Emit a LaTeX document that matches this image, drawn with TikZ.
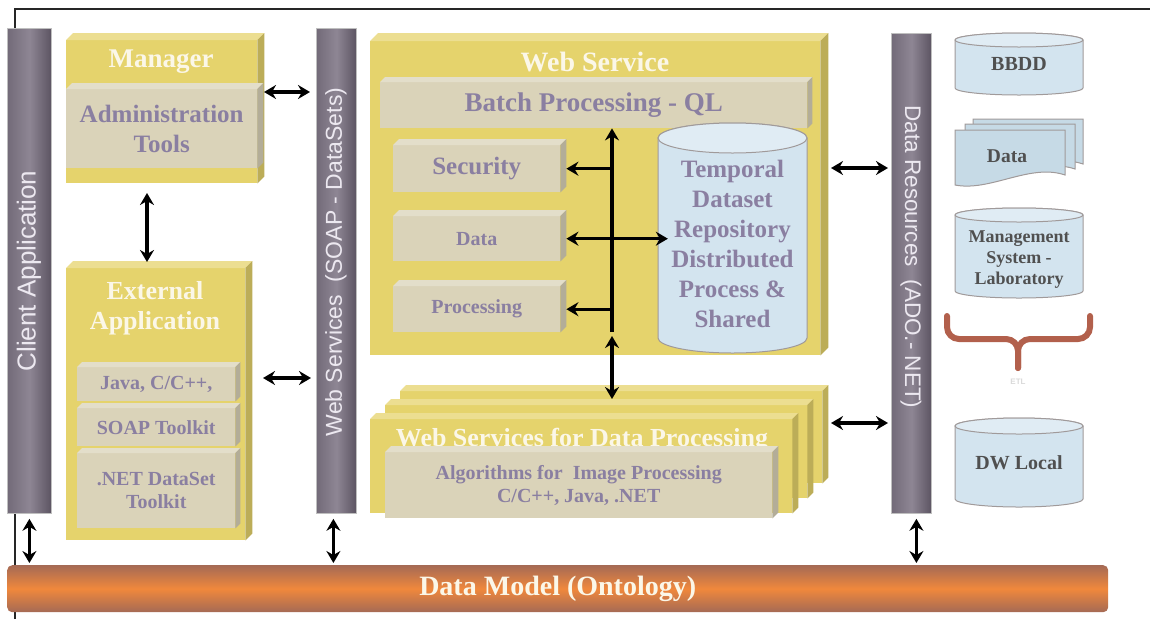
\documentclass[tikz,border=0pt]{standalone}
\usepackage{fontspec}
\setmainfont{Liberation Serif}
\setsansfont{Liberation Sans}
\usetikzlibrary{arrows.meta}

\definecolor{slabyellow}{HTML}{E5D36C}
\definecolor{tilegray}{HTML}{DAD3B9}
\definecolor{inkpurple}{HTML}{8A7FA1}
\definecolor{headwhite}{HTML}{FBF7E8}
\definecolor{bardark}{HTML}{5C5462}
\definecolor{barlight}{HTML}{8E8694}
\definecolor{barwhite}{HTML}{ECE8F0}
\definecolor{drumblue}{HTML}{D3E4EF}
\definecolor{drumline}{HTML}{A09A9A}
\definecolor{docblue}{HTML}{C6DAE6}
\definecolor{modelorange}{HTML}{F0883C}
\definecolor{modelbrown}{HTML}{A56A55}
\definecolor{bracered}{HTML}{B2604C}
\definecolor{darkink}{HTML}{505050}

% top and right faces of a block
\newcommand{\slab}[3]{%
  \fill[#3!75!white] (#1.north west) -- ++(#2,-#2) -- ([shift={(#2,-#2)}]#1.north east) -- (#1.north east) -- cycle;
  \fill[#3!82!black] (#1.north east) -- ++(#2,-#2) -- ([shift={(#2,-#2)}]#1.south east) -- (#1.south east) -- cycle;
}
% database drum: [style] name, left, top, width, height, rim, text
\newcommand{\drum}[8][]{%
  \filldraw[drumbody] (#3,{#4+#7}) -- ++(0,{#6-2*#7})
    arc[start angle=180, end angle=0, x radius={#5/2}, y radius=#7]
    -- ++(0,{2*#7-#6})
    arc[start angle=0, end angle=-180, x radius={#5/2}, y radius=#7] -- cycle;
  \filldraw[drumbody, fill=drumblue!70!white] ({#3+#5/2},{#4+#7}) ellipse[x radius={#5/2}, y radius=#7];
  \node[drumtext, #1] (#2) at ({#3+#5/2},{#4+#6/2}) {#8};
}
% one paper sheet
\newcommand{\sheet}[2]{%
  \filldraw[docsheet] (#1,#2) -- ({#1+110},#2) -- ({#1+110},{#2+45})
    .. controls ({#1+75},{#2+33}) and ({#1+35},{#2+62}) .. (#1,{#2+55}) -- cycle;
}

\begin{document}
\begin{tikzpicture}[x=1pt, y=-1pt,
  panel/.style={fill=slabyellow, anchor=north west, inner sep=0pt},
  tile/.style={fill=tilegray, anchor=north west, inner sep=0pt, align=center, text=inkpurple},
  heading/.style={text=headwhite, font=\bfseries\fontsize{26}{30}\selectfont},
  pillar/.style={left color=bardark!55!barlight, right color=bardark, middle color=barlight,
                 draw=black!25, line width=0.8pt, anchor=north west, inner sep=0pt},
  bartext/.style={text=barwhite, font=\sffamily\fontsize{23}{26}\selectfont},
  drumbody/.style={fill=drumblue, draw=drumline, line width=1pt},
  drumtext/.style={align=center, text=darkink, font=\bfseries\fontsize{20}{22}\selectfont},
  docsheet/.style={fill=docblue, draw=drumline, line width=1pt},
  twohead/.style={{Stealth[length=12pt,width=14pt,inset=4pt]}-{Stealth[length=12pt,width=14pt,inset=4pt]}, line width=3.4pt},
  onehead/.style={-{Stealth[length=12pt,width=14pt,inset=4pt]}, line width=3.4pt},
  etlbrace/.style={draw=bracered, line width=6pt, line cap=round, rounded corners=12pt}]
    \useasboundingbox (0,0) rectangle (1150,619);

    % frame
    \draw[line width=1.4pt, black!85] (15,619) -- (15,9) -- (1150,9);

    % pillars
    \node[pillar, minimum width=44, minimum height=485] (client) at (7,28) {};
    \node[bartext, font=\sffamily\fontsize{26}{28}\selectfont, rotate=90] (clientlbl) at (29,271) {Client Application};
    \node[pillar, minimum width=40, minimum height=485] (wsbar) at (316,28) {};
    \node[bartext, rotate=90] (wsbarlbl) at (336,262) {Web Services\ \ (SOAP - DataSets)};
    \node[pillar, minimum width=40, minimum height=480] (dres) at (891,33) {};
    \node[bartext, font=\sffamily\fontsize{22.5}{26}\selectfont, rotate=-90] (dreslbl) at (911,257) {Data Resources\ \ (ADO.- NET)};

    % data model
    \node[anchor=north west, inner sep=0pt, minimum width=1101, minimum height=47, rounded corners=5pt,
          top color=modelbrown, bottom color=modelbrown, middle color=modelorange,
          text=headwhite, font=\bfseries\fontsize{28}{30}\selectfont] (model) at (7,565) {Data Model (Ontology)};

    % manager
    \node[panel, minimum width=191, minimum height=143] (mgr) at (66,40) {};
    \slab{mgr}{7}{slabyellow}
    \node[heading, font=\bfseries\fontsize{27}{30}\selectfont] (mgrtitle) at (161,62) {Manager};
    \node[tile, minimum width=191, minimum height=79, font=\bfseries\fontsize{25}{30}\selectfont] (admin) at (66,89) {Administration\\Tools};
    \slab{admin}{6}{tilegray}

    % external application
    \node[panel, minimum width=179, minimum height=272] (ext) at (66,268) {};
    \slab{ext}{7}{slabyellow}
    \node[heading, align=center] (exttitle) at (155,308) {External\\Application};
    \node[tile, minimum width=158, minimum height=34, font=\bfseries\fontsize{20}{23}\selectfont] (java) at (77,367) {Java, C/C++,};
    \slab{java}{5}{tilegray}
    \node[tile, minimum width=158, minimum height=38, font=\bfseries\fontsize{20}{23}\selectfont] (soap) at (77,408) {SOAP Toolkit};
    \slab{soap}{5}{tilegray}
    \node[tile, minimum width=158, minimum height=75, font=\bfseries\fontsize{20}{23}\selectfont] (dotnet) at (77,453) {.NET DataSet\\Toolkit};
    \slab{dotnet}{5}{tilegray}

    % web service
    \node[panel, minimum width=450, minimum height=314] (ws) at (370,41) {};
    \slab{ws}{8}{slabyellow}
    \node[heading, font=\bfseries\fontsize{28}{30}\selectfont] (wstitle) at (595,62) {Web Service};
    \node[tile, minimum width=427, minimum height=46, font=\bfseries\fontsize{27}{30}\selectfont] (batch) at (380,82) {Batch Processing - QL};
    \slab{batch}{5}{tilegray}
    \node[tile, minimum width=167, minimum height=47, font=\bfseries\fontsize{25}{28}\selectfont] (sec) at (393,145) {Security};
    \slab{sec}{6}{tilegray}
    \node[tile, minimum width=167, minimum height=45, font=\bfseries\fontsize{20}{23}\selectfont] (data) at (393,216) {Data};
    \slab{data}{6}{tilegray}
    \node[tile, minimum width=167, minimum height=46, font=\bfseries\fontsize{20}{23}\selectfont] (proc) at (393,286) {Processing};
    \slab{proc}{6}{tilegray}
    \drum[yshift=-6pt, text=inkpurple, font=\bfseries\fontsize{25}{30}\selectfont]{repo}{658}{123}{149}{230}{15}{Temporal\\Dataset\\Repository\\Distributed\\Process \&\\Shared}

    % bus
    \coordinate (busbot) at (612,332);
    \draw[onehead] (busbot) -- (busbot |- batch.south);
    \draw[onehead] (busbot |- sec.east) -- ([xshift=6pt]sec.east);
    \draw[twohead] ([xshift=6pt]data.east) -- (data.east -| repo.west);
    \draw[onehead] (busbot |- proc.east) -- ([xshift=6pt]proc.east);

    % web services for data processing
    \node[panel, minimum width=422, minimum height=92] (wsd3) at (400,391) {};
    \slab{wsd3}{6}{slabyellow}
    \node[panel, minimum width=422, minimum height=93] (wsd2) at (385,405) {};
    \slab{wsd2}{6}{slabyellow}
    \node[panel, minimum width=422, minimum height=94] (wsd1) at (370,419) {};
    \slab{wsd1}{6}{slabyellow}
    \node[heading, anchor=base] (wsdtitle) at (582,446) {Web Services for Data Processing};
    \node[tile, minimum width=387, minimum height=66, font=\bfseries\fontsize{20}{23}\selectfont] (algo) at (385,452) {Algorithms for\ \ Image Processing\\C/C++, Java, .NET};
    \slab{algo}{6}{tilegray}
    \draw[twohead] ([yshift=-4pt]busbot) -- ([yshift=-8pt]busbot |- wsd3.north);

    % left arrows
    \coordinate (m2w) at (264,92);
    \draw[twohead, shorten >=6pt] (m2w) -- (m2w -| wsbar.west);
    \coordinate (m2e) at (147,193);
    \draw[twohead, shorten >=6pt] (m2e) -- (m2e |- ext.north);
    \coordinate (e2w) at (263,378);
    \draw[twohead, shorten >=5pt] (e2w) -- (e2w -| wsbar.west);

    % right arrows
    \coordinate (w2d) at (831,168);
    \draw[twohead, shorten >=3pt] (w2d) -- (w2d -| dres.west);
    \coordinate (s2d) at (831,423);
    \draw[twohead, shorten >=3pt] (s2d) -- (s2d -| dres.west);

    % down to the data model
    \draw[twohead, shorten >=2pt] ([yshift=-5pt]client.south) -- (client.south |- model.north);
    \draw[twohead, shorten >=2pt] ([xshift=-3pt, yshift=-5pt]wsbar.south) -- ([xshift=-3pt]wsbar.south |- model.north);
    \draw[twohead, shorten >=2pt] ([xshift=5pt, yshift=-5pt]dres.south) -- ([xshift=5pt]dres.south |- model.north);

    % resources
    \drum{bbdd}{955}{33}{128}{62}{7}{BBDD}
    \sheet{973}{119}
    \sheet{965}{124}
    \sheet{955}{130}
    \node[drumtext, font=\bfseries\fontsize{19.5}{22}\selectfont] (datafiles) at (1007,156) {Data};
    \drum[yshift=-7pt, font=\bfseries\fontsize{18}{21}\selectfont]{mgmt}{955}{208}{128}{90}{7}{Management\\System -\\Laboratory}
    \draw[etlbrace] (947,316) -- (947,339) -- (1018,339) -- (1018,368);
    \draw[etlbrace] (1090,316) -- (1090,339) -- (1018,339) -- (1018,368);
    \node[text=black!15, font=\sffamily\bfseries\fontsize{8}{9}\selectfont] (etl) at (1018,382) {ETL};
    \drum{dw}{955}{418}{128}{89}{8}{DW Local}
\end{tikzpicture}
\end{document}
